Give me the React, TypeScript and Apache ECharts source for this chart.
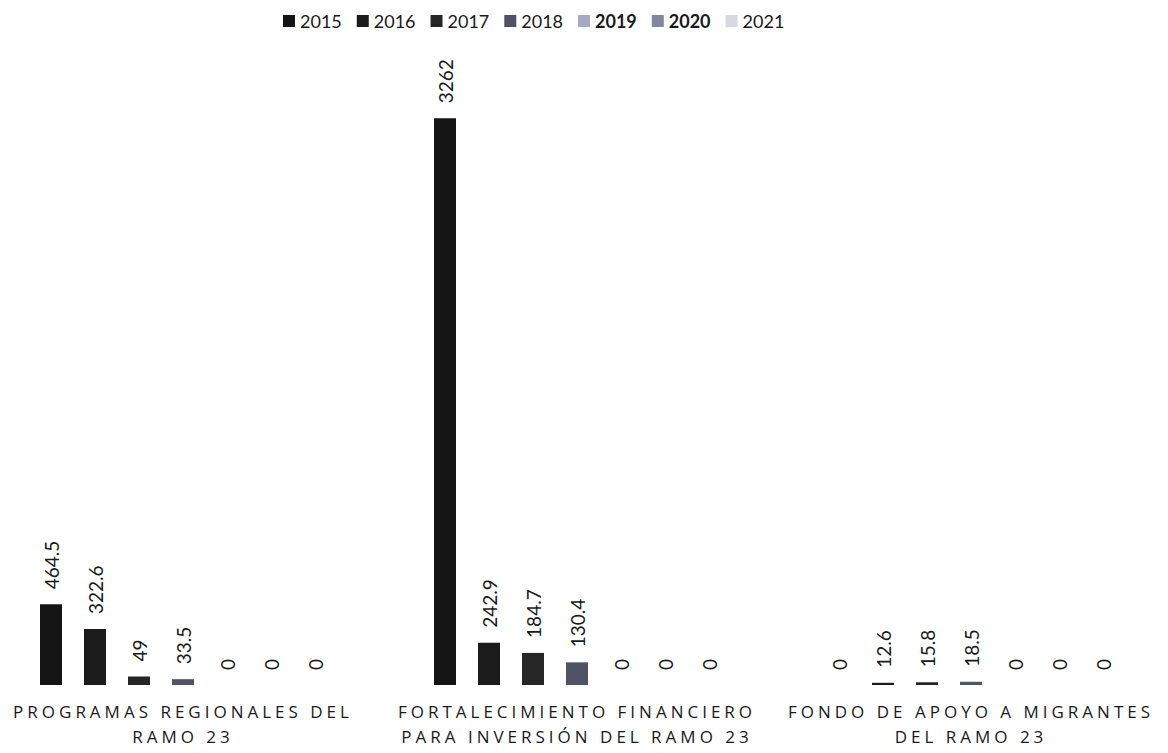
import React, { useEffect, useRef } from "react";
import * as echarts from "echarts";

const categories = [
  "PROGRAMAS REGIONALES DEL\nRAMO 23",
  "FORTALECIMIENTO FINANCIERO\nPARA INVERSIÓN DEL RAMO 23",
  "FONDO DE APOYO A MIGRANTES\nDEL RAMO 23",
];

const years = ["2015", "2016", "2017", "2018", "2019", "2020", "2021"];

const values2015 = [464.5, 3262, 0];
const values2016 = [322.6, 242.9, 12.6];
const values2017 = [49, 184.7, 15.8];
const values2018 = [33.5, 130.4, 18.5];
const values2019 = [0, 0, 0];
const values2020 = [0, 0, 0];
const values2021 = [0, 0, 0];

const seriesValues = [values2015, values2016, values2017, values2018, values2019, values2020, values2021];
const colors = ["#141414", "#1b1b1b", "#262626", "#4f5366", "#a3aac2", "#80879e", "#d6d9e3"];
const boldYears = ["2019", "2020"];

export default function App() {
  const ref = useRef<HTMLDivElement>(null);

  useEffect(() => {
    if (!ref.current) return;
    const chart = echarts.init(ref.current, undefined, { renderer: "svg" });
    chart.setOption({
      animation: false,
      backgroundColor: "#ffffff",
      legend: {
        left: 292,
        top: 7,
        itemWidth: 12,
        itemHeight: 12,
        itemGap: 15,
        icon: "rect",
        textStyle: { fontFamily: "Lato", fontSize: 18, color: "#1a1a1a" },
        data: years.map((y) =>
          boldYears.includes(y) ? { name: y, textStyle: { fontWeight: "bold" } } : { name: y }
        ),
      },
      grid: { left: 0, right: 0, top: 77, bottom: 68, containLabel: false },
      xAxis: {
        type: "category",
        data: categories,
        axisLine: { show: false },
        axisTick: { show: false },
        axisLabel: {
          interval: 0,
          margin: 14,
          fontFamily: "Open Sans",
          fontSize: 17,
          lineHeight: 25,
          color: "#1a1a1a",
        },
      },
      yAxis: {
        type: "value",
        min: 0,
        max: 3500,
        show: false,
        splitLine: { show: false },
      },
      series: years.map((y, i) => ({
        name: y,
        type: "bar",
        data: seriesValues[i],
        barWidth: 22,
        barGap: "100%",
        itemStyle: { color: colors[i] },
        label: {
          show: true,
          position: "top",
          rotate: 90,
          align: "left",
          verticalAlign: "middle",
          distance: 15,
          fontFamily: "Lato",
          fontSize: 19,
          color: "#1a1a1a",
          formatter: (p: any) => String(p.value),
        },
      })),
    });
    return () => chart.dispose();
  }, []);

  return (
    <>
      <style>{`body{margin:0;overflow:hidden} text[style*="Open Sans"]{letter-spacing:4px}`}</style>
      <div ref={ref} style={{ width: 1182, height: 753, marginLeft: -14 }} />
    </>
  );
}
